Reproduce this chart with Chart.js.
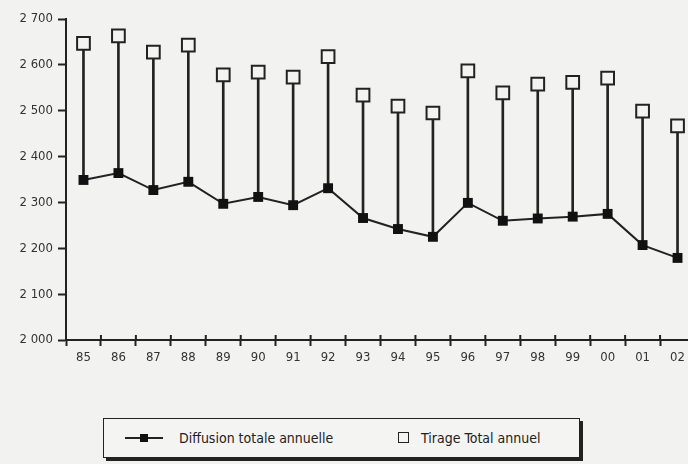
<!DOCTYPE html>
<html>
<head>
<meta charset="utf-8">
<script src="https://cdn.jsdelivr.net/npm/chart.js@4.4.0/dist/chart.umd.min.js"></script>
<style>
    html, body { margin: 0; padding: 0; background: #f2f2f1; overflow: hidden; width: 688px; height: 464px; }
    #wrap { position: absolute; left: 0; top: 0; width: 706px; height: 380px; }
    #legend {
        position: absolute; left: 103px; top: 418px; width: 475px; height: 38px;
        border: 1px solid #222; box-shadow: 3px 3px 0 #222; background: #f4f4f3;
        font-family: "Liberation Sans Narrow", "DejaVu Sans Condensed", sans-serif;
        font-size: 14px; color: #222;
    }
    .item { position: absolute; top: 11px; white-space: nowrap; }
    .sym { position: absolute; top: 8px; }
</style>
</head>
<body>
<div id="wrap"><canvas id="line-canvas" width="706" height="380"></canvas></div>
<div id="legend"></div>
<script>
// years (tick labels)
var years = ['85', '86', '87', '88', '89', '90', '91', '92', '93', '94', '95', '96', '97', '98', '99', '00', '01', '02'];
// Diffusion totale annuelle (filled squares)
var diffusion = [2349, 2364, 2327, 2345, 2297, 2312, 2294, 2331, 2266, 2242, 2225, 2299, 2260, 2265, 2269, 2275, 2207, 2179];
// Tirage Total annuel (open squares)
var tirage = [2647, 2663, 2628, 2643, 2578, 2584, 2573, 2618, 2534, 2510, 2495, 2587, 2539, 2558, 2562, 2571, 2499, 2467];
var yTicks = [2000, 2100, 2200, 2300, 2400, 2500, 2600, 2700];

var labelFont = { family: '"Liberation Sans Narrow", "DejaVu Sans Condensed", sans-serif', size: 13 };
var ink = '#222';

// stems from diffusion up to tirage
var stems = diffusion.map(function (d, i) { return [d, tirage[i]]; });

// small ticks crossing the x axis, at the category boundaries
var crossTicks = {
    id: 'crossTicks',
    afterDatasetsDraw: function (chart) {
        var x = chart.scales.x, ctx = chart.ctx;
        ctx.save();
        ctx.strokeStyle = ink;
        ctx.lineWidth = 2;
        for (var i = 0; i < years.length - 1; i++) {
            var px = (x.getPixelForValue(i) + x.getPixelForValue(i + 1)) / 2;
            ctx.beginPath();
            ctx.moveTo(px, x.top - 5);
            ctx.lineTo(px, x.top);
            ctx.stroke();
        }
        ctx.restore();
    }
};

var config = {
    data: {
        labels: years,
        datasets: [{
            type: 'line',
            label: 'Diffusion totale annuelle',
            data: diffusion,
            borderColor: ink,
            borderWidth: 2,
            tension: 0,
            pointStyle: 'rect',
            pointRadius: 7,
            pointBackgroundColor: '#111',
            pointBorderColor: '#111',
            pointBorderWidth: 0,
            order: 2
        }, {
            type: 'line',
            label: 'Tirage Total annuel',
            data: tirage,
            showLine: false,
            pointStyle: 'rect',
            pointRadius: 9,
            pointBackgroundColor: '#f3f3f2',
            pointBorderColor: ink,
            pointBorderWidth: 2,
            order: 1
        }, {
            type: 'bar',
            label: 'stems',
            data: stems,
            backgroundColor: ink,
            barThickness: 2,
            order: 3
        }]
    },
    options: {
        responsive: false,
        animation: false,
        layout: { padding: { top: 19, right: 4, left: 0, bottom: 0 } },
        plugins: {
            legend: { display: false },
            tooltip: { enabled: false }
        },
        scales: {
            x: {
                offset: true,
                grid: { drawOnChartArea: false, offset: true, tickLength: 6, tickWidth: 2, tickColor: ink },
                border: { color: ink, width: 2 },
                ticks: { color: '#333', font: labelFont, padding: 4, maxRotation: 0, autoSkip: false },
                afterFit: function (s) { s.height = 40; }
            },
            y: {
                min: 2000,
                max: 2700,
                afterBuildTicks: function (s) { s.ticks = yTicks.map(function (v) { return { value: v }; }); },
                grid: { drawOnChartArea: false, tickLength: 8, tickWidth: 2, tickColor: ink },
                border: { color: ink, width: 2 },
                ticks: {
                    color: '#333', font: labelFont, padding: 5,
                    callback: function (v) { return String(v).replace(/\B(?=(\d{3})+$)/, ' '); }
                },
                afterFit: function (s) { s.width = 66; }
            }
        }
    },
    plugins: [crossTicks]
};

var ctx = document.getElementById('line-canvas').getContext('2d');
window.myLine = new Chart(ctx, config);

// legend box, built from the dataset labels
var legend = document.getElementById('legend');
var ds = window.myLine.data.datasets;
legend.innerHTML =
    '<div class="sym" style="left:21px;top:18px;width:38px;height:2px;background:#222"></div>' +
    '<div class="sym" style="left:36px;top:15px;width:8px;height:8px;background:#111"></div>' +
    '<div class="item" style="left:75px">' + ds[0].label + '</div>' +
    '<div class="sym" style="left:294px;top:13px;width:9px;height:9px;border:1.5px solid #222"></div>' +
    '<div class="item" style="left:317px">' + ds[1].label + '</div>';
</script>
</body>
</html>
